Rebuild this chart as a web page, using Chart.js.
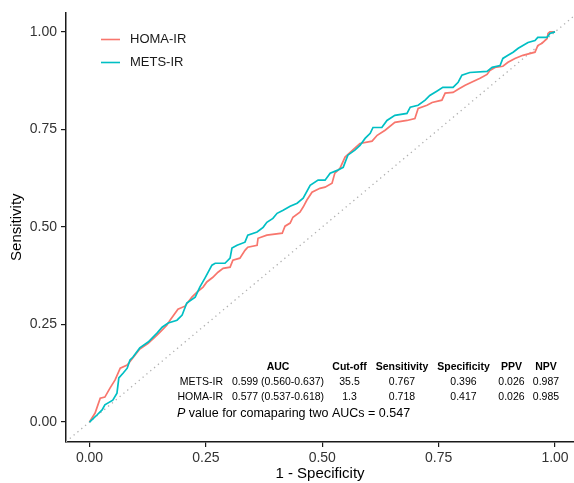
<!DOCTYPE html>
<html>
<head>
<meta charset="utf-8">
<script src="https://cdn.jsdelivr.net/npm/chart.js@4"></script>
<style>
  html, body { margin: 0; padding: 0; background: #fff; overflow: hidden; }
  #wrap { width: 574px; height: 483px; position: relative; }
</style>
</head>
<body>
<div id="wrap"><canvas id="rocChart"></canvas></div>
<script>
// ROC curves (1 - specificity, sensitivity)
const homaFpr = [0, 0.012, 0.023, 0.033, 0.044, 0.055, 0.066, 0.081, 0.093, 0.108, 0.126, 0.141, 0.151, 0.166, 0.173,
  0.190, 0.205, 0.220, 0.231, 0.244, 0.252, 0.265, 0.276, 0.287, 0.302, 0.308, 0.323, 0.334, 0.340, 0.360, 0.362,
  0.381, 0.414, 0.420, 0.431, 0.437, 0.452, 0.459, 0.467, 0.478, 0.495, 0.506, 0.521, 0.527, 0.538, 0.549, 0.560,
  0.570, 0.581, 0.607, 0.618, 0.635, 0.656, 0.682, 0.699, 0.706, 0.725, 0.736, 0.757, 0.764, 0.781, 0.792, 0.807,
  0.824, 0.839, 0.854, 0.860, 0.871, 0.888, 0.899, 0.914, 0.931, 0.957, 0.963, 0.972, 0.983, 0.985, 0.989, 1.0];
const homaTpr = [0, 0.023, 0.061, 0.064, 0.087, 0.108, 0.138, 0.146, 0.164, 0.187, 0.202, 0.218, 0.230, 0.248, 0.261,
  0.289, 0.297, 0.320, 0.333, 0.346, 0.359, 0.371, 0.384, 0.394, 0.397, 0.415, 0.420, 0.440, 0.448, 0.453, 0.471,
  0.479, 0.484, 0.502, 0.510, 0.525, 0.538, 0.551, 0.569, 0.589, 0.599, 0.602, 0.612, 0.638, 0.650, 0.679, 0.691,
  0.702, 0.714, 0.720, 0.735, 0.748, 0.768, 0.773, 0.778, 0.804, 0.812, 0.819, 0.825, 0.843, 0.845, 0.853, 0.863,
  0.873, 0.881, 0.891, 0.901, 0.909, 0.912, 0.922, 0.932, 0.940, 0.948, 0.965, 0.971, 0.983, 0.996, 1.0, 1.0];

const metsFpr = [0, 0.016, 0.027, 0.033, 0.050, 0.059, 0.063, 0.072, 0.081, 0.087, 0.093, 0.108, 0.126, 0.145, 0.156,
  0.169, 0.188, 0.199, 0.209, 0.227, 0.237, 0.248, 0.263, 0.270, 0.291, 0.302, 0.306, 0.317, 0.334, 0.340, 0.360,
  0.373, 0.381, 0.394, 0.403, 0.416, 0.431, 0.446, 0.459, 0.474, 0.491, 0.506, 0.517, 0.532, 0.545, 0.555, 0.570,
  0.581, 0.592, 0.603, 0.609, 0.628, 0.639, 0.656, 0.682, 0.689, 0.706, 0.721, 0.731, 0.746, 0.759, 0.781, 0.792,
  0.800, 0.817, 0.854, 0.865, 0.882, 0.888, 0.899, 0.910, 0.921, 0.942, 0.957, 0.963, 0.983, 0.989, 1.0];
const metsTpr = [0, 0.018, 0.031, 0.044, 0.056, 0.074, 0.113, 0.125, 0.138, 0.159, 0.166, 0.190, 0.205, 0.228, 0.243,
  0.254, 0.261, 0.274, 0.305, 0.320, 0.346, 0.369, 0.402, 0.407, 0.407, 0.420, 0.446, 0.453, 0.461, 0.479, 0.487,
  0.499, 0.512, 0.522, 0.535, 0.543, 0.553, 0.561, 0.574, 0.607, 0.620, 0.620, 0.638, 0.645, 0.653, 0.684, 0.697,
  0.709, 0.727, 0.740, 0.755, 0.755, 0.773, 0.786, 0.791, 0.807, 0.812, 0.825, 0.837, 0.848, 0.858, 0.858, 0.871,
  0.889, 0.896, 0.899, 0.909, 0.914, 0.932, 0.940, 0.948, 0.958, 0.973, 0.978, 0.986, 0.986, 0.996, 1.0];

const refLine = [-0.1, 1.1];
const tickValues = [0, 0.25, 0.5, 0.75, 1];

const seriesNames = ['HOMA-IR', 'METS-IR'];
const seriesColors = ['#F8766D', '#00BFC4'];

// summary table
const tableHeader = ['AUC', 'Cut-off', 'Sensitivity', 'Specificity', 'PPV', 'NPV'];
const tableRows = [
  ['METS-IR', '0.599 (0.560-0.637)', '35.5', '0.767', '0.396', '0.026', '0.987'],
  ['HOMA-IR', '0.577 (0.537-0.618)', '1.3', '0.718', '0.417', '0.026', '0.985']
];
const pValueText = 'value for comaparing two AUCs = 0.547';

function toPoints(xs, ys) {
  return xs.map((x, i) => ({ x: x, y: ys[i] }));
}

const FONT = '"Liberation Sans", Arial, sans-serif';

// legend and table drawn on top of the plot
const annotations = {
  id: 'annotations',
  afterDraw(chart) {
    const ctx = chart.ctx;
    ctx.save();
    // legend
    ctx.font = '13px ' + FONT;
    ctx.textBaseline = 'middle';
    ctx.textAlign = 'left';
    seriesNames.forEach((name, i) => {
      const y = 39.5 + i * 23;
      ctx.strokeStyle = seriesColors[i];
      ctx.lineWidth = 1.6;
      ctx.beginPath();
      ctx.moveTo(101, y);
      ctx.lineTo(120, y);
      ctx.stroke();
      ctx.fillStyle = '#1a1a1a';
      ctx.fillText(name, 130, y);
    });

    // table
    const colX = [278, 349.5, 402, 463.5, 511.5, 546];
    ctx.fillStyle = '#000';
    ctx.textAlign = 'center';
    ctx.font = 'bold 10.5px ' + FONT;
    tableHeader.forEach((h, i) => ctx.fillText(h, colX[i], 367));
    ctx.font = '10.5px ' + FONT;
    tableRows.forEach((row, r) => {
      const y = 382 + r * 15;
      ctx.textAlign = 'right';
      ctx.fillText(row[0], 223, y);
      ctx.textAlign = 'center';
      row.slice(1).forEach((v, i) => ctx.fillText(v, colX[i], y));
    });
    ctx.textAlign = 'left';
    ctx.font = 'italic 12.5px ' + FONT;
    ctx.fillText('P', 177, 414);
    const pw = ctx.measureText('P ').width;
    ctx.font = '12.5px ' + FONT;
    ctx.fillText(pValueText, 177 + pw, 414);
    ctx.restore();
  }
};

const axisColor = '#1a1a1a';

new Chart(document.getElementById('rocChart'), {
  type: 'scatter',
  data: {
    datasets: [
      {
        label: seriesNames[0],
        data: toPoints(homaFpr, homaTpr),
        showLine: true,
        borderColor: seriesColors[0],
        borderWidth: 1.7,
        pointRadius: 0,
        order: 2
      },
      {
        label: seriesNames[1],
        data: toPoints(metsFpr, metsTpr),
        showLine: true,
        borderColor: seriesColors[1],
        borderWidth: 1.7,
        pointRadius: 0,
        order: 1
      },
      {
        label: 'reference',
        data: toPoints(refLine, refLine),
        showLine: true,
        borderColor: '#b0b0b0',
        borderWidth: 1.3,
        borderDash: [1.3, 3.7],
        pointRadius: 0,
        order: 3
      }
    ]
  },
  options: {
    responsive: true,
    maintainAspectRatio: false,
    animation: false,
    layout: { padding: { top: 12, right: 0, left: 0, bottom: 0 } },
    plugins: {
      legend: { display: false },
      tooltip: { enabled: false }
    },
    scales: {
      x: {
        type: 'linear',
        min: -0.0505,
        max: 1.0408,
        afterBuildTicks: (scale) => { scale.ticks = tickValues.map(v => ({ value: v })); },
        afterFit: (scale) => { scale.height = 41; },
        ticks: {
          callback: (v) => v.toFixed(2),
          font: { family: FONT, size: 14 },
          color: '#333',
          padding: 3,
          maxRotation: 0
        },
        grid: { drawOnChartArea: false, drawTicks: true, tickLength: 5, color: axisColor, lineWidth: 1.2 },
        border: { display: true, color: axisColor, width: 1.5 },
        title: {
          display: true,
          text: '1 - Specificity',
          font: { family: FONT, size: 15 },
          color: '#000',
          padding: { top: 0, bottom: 0 }
        }
      },
      y: {
        type: 'linear',
        min: -0.0512,
        max: 1.05,
        afterBuildTicks: (scale) => { scale.ticks = tickValues.map(v => ({ value: v })); },
        afterFit: (scale) => { scale.width = 66; },
        ticks: {
          callback: (v) => v.toFixed(2),
          font: { family: FONT, size: 14 },
          color: '#333',
          padding: 4
        },
        grid: { drawOnChartArea: false, drawTicks: true, tickLength: 5, color: axisColor, lineWidth: 1.2 },
        border: { display: true, color: axisColor, width: 1.5 },
        title: {
          display: true,
          text: 'Sensitivity',
          font: { family: FONT, size: 15 },
          color: '#000',
          padding: { top: 8, bottom: 0 }
        }
      }
    }
  },
  plugins: [annotations]
});
</script>
</body>
</html>
